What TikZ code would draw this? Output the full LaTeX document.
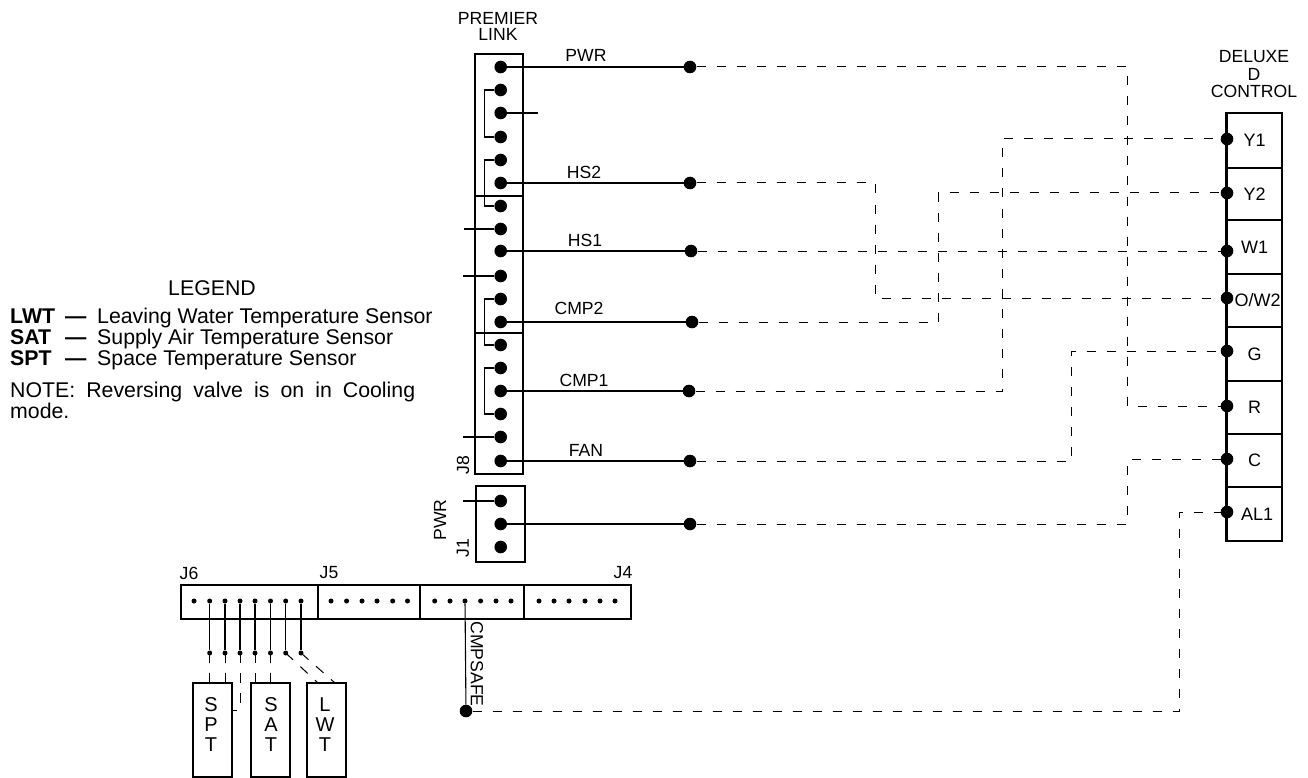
\documentclass[tikz,border=0pt]{standalone}
\usepackage{fontspec}
\setmainfont{Liberation Sans}
\tikzset{
	lbl/.style={inner sep=0pt, font=\fontsize{17.6}{16}\selectfont, align=center},
	legendtxt/.style={inner sep=0pt, anchor=west, text height=15pt, text depth=4pt, font=\fontsize{21.3}{21}\selectfont},
	bigdot/.style={circle, fill=black, inner sep=0pt, minimum size=12.6pt},
	smalldot/.style={circle, fill=black, inner sep=0pt, minimum size=5pt},
	wire/.style={line width=1.1pt},
	dashwire/.style={line width=1pt, dash pattern=on 9pt off 11pt},
	stubdash/.style={line width=1pt, dash pattern=on 10pt off 10pt},
	boxpart/.style={draw, line width=2pt, rectangle, inner sep=0pt, font=\fontsize{18}{18}\selectfont},
	sensortext/.style={inner sep=0pt, align=center, font=\fontsize{20}{20}\selectfont},
}
\begin{document}
\begin{tikzpicture}[x=1pt,y=-1pt,line join=miter,line cap=butt]
		\useasboundingbox (0,0) rectangle (1308,778);
		\def\jx{500.7} \def\bx{484.3} \def\rx{690} \def\dx{1227}
		% legend
		\node[inner sep=0pt, font=\fontsize{21.3}{21}\selectfont] (legend) at (212,288) {LEGEND};
		\foreach \nm/\txt/\y in {LWT/Leaving Water Temperature Sensor/318,SAT/Supply Air Temperature Sensor/339,SPT/Space Temperature Sensor/360} {
			\node[legendtxt, font=\fontsize{21.3}{21}\selectfont\bfseries] (key\nm) at (10,\y) {\nm};
			\node[legendtxt, font=\fontsize{21.3}{21}\selectfont\bfseries] (dash\nm) at (65,\y) {---};
			\node[legendtxt] (txt\nm) at (97,\y) {\txt};
		}
		\node[inner sep=0pt, anchor=north west, text width=405pt, align=justify, font=\fontsize{21.3}{19}\selectfont] (note) at (10,382) {NOTE: Reversing valve is on in Cooling mode.};
		% premier link
		\node[lbl] (premier) at (498,26.5) {PREMIER\\LINK};
		\node[boxpart, minimum width=48pt, minimum height=420pt] (jeight) at (499,264) {};
		\node[boxpart, minimum width=49pt, minimum height=76pt] (jone) at (500.5,524) {};
		\coordinate (divaw) at (476,196); \coordinate (divae) at (524,196);
		\coordinate (divbw) at (476,333); \coordinate (divbe) at (524,333);
		\draw[wire] (divaw)--(divae);
		\draw[wire] (divbw)--(divbe);
		\foreach \y [count=\i] in {67,90,113,137,160,183,206,229,251,276,299,322,345,368,391,414,437,461}
			\node[bigdot] (p\i) at (\jx,\y) {};
		\node[bigdot] (q1) at (\jx,501) {};
		\node[bigdot] (q2) at (\jx,524) {};
		\node[bigdot] (q3) at (\jx,547) {};
		\draw[wire] (p2)--(\bx,90)--(\bx,137)--(p4);
		\draw[wire] (p5)--(\bx,160)--(\bx,206)--(p7);
		\draw[wire] (p11)--(\bx,299)--(\bx,345)--(p13);
		\draw[wire] (p14)--(\bx,368)--(\bx,414)--(p16);
		\coordinate (stuba) at (538,113); \coordinate (stubb) at (464,229);
		\coordinate (stubc) at (463,276); \coordinate (stubd) at (463,437);
		\coordinate (stube) at (463,501);
		\draw[wire] (p3)--(stuba);
		\draw[wire] (p8)--(stubb);
		\draw[wire] (p10)--(stubc);
		\draw[wire] (p17)--(stubd);
		\draw[wire] (q1)--(stube);
		\node[lbl, rotate=90] (jeightlbl) at (463,465) {J8};
		\node[lbl, rotate=90] (jonelbl) at (463,548) {J1};
		\node[lbl, rotate=90] (pwrlbl) at (440,520) {PWR};
		% wire ends
		\node[bigdot] (rpwr) at (\rx,67) {};
		\node[bigdot] (rhs2) at (\rx,183) {};
		\node[bigdot] (rhs1) at (691,251) {};
		\node[bigdot] (rcmp2) at (692,322) {};
		\node[bigdot] (rcmp1) at (689,391) {};
		\node[bigdot] (rfan) at (\rx,461) {};
		\node[bigdot] (rj1) at (\rx,524) {};
		\draw[wire] (p1)--(rpwr);
		\draw[wire] (p6)--(rhs2);
		\draw[wire] (p9)--(rhs1);
		\draw[wire] (p12)--(rcmp2);
		\draw[wire] (p15)--(rcmp1);
		\draw[wire] (p18)--(rfan);
		\draw[wire] (q2)--(rj1);
		\node[lbl] (pwrwire) at (586,55) {PWR};
		\node[lbl] (hstwo) at (584,172) {HS2};
		\node[lbl] (hsone) at (585,240) {HS1};
		\node[lbl] (cmptwo) at (579,308) {CMP2};
		\node[lbl] (cmpone) at (584,380) {CMP1};
		\node[lbl] (fanlbl) at (586,450) {FAN};
		% deluxe control
		\node[lbl, font=\fontsize{17.6}{17.5}\selectfont] (deluxe) at (1254,74.5) {DELUXE\\D\\CONTROL};
		\foreach \nm/\top/\bot in {Y1/113/168,Y2/168/220,W1/220/274,\kern6pt O\slash W2/274/327,G/327/381,R/381/434,C/434/487,\kern5pt AL1/487/541} {
			\pgfmathsetmacro{\cy}{(\top+\bot)/2}
			\pgfmathsetmacro{\ch}{\bot-\top}
			\node[boxpart, line width=1.4pt, minimum width=55pt, minimum height=\ch pt] (cell\top) at (1254.5,\cy) {\nm};
		}
		\draw[line width=2pt] (cell113.north west)--(cell487.south west);
		\node[bigdot] (dY1) at (\dx,139) {};
		\node[bigdot] (dY2) at (\dx,193) {};
		\node[bigdot] (dW1) at (\dx,251) {};
		\node[bigdot] (dOW2) at (\dx,298) {};
		\node[bigdot] (dG) at (\dx,351) {};
		\node[bigdot] (dR) at (\dx,406) {};
		\node[bigdot] (dC) at (\dx,459) {};
		\node[bigdot] (dAL1) at (\dx,512) {};
		\draw[dashwire] (rpwr)--(1127,67)--(1127,406)--(dR);
		\draw[dashwire] (rhs2)--(875,183)--(875,298)--(dOW2);
		\draw[dashwire] (rhs1)--(dW1);
		\draw[dashwire] (rcmp2)--(938,322)--(938,193)--(dY2);
		\draw[dashwire] (rcmp1)--(1002,391)--(1002,139)--(dY1);
		\draw[dashwire] (rfan)--(1071,461)--(1071,351)--(dG);
		\draw[dashwire] (rj1)--(1127,524)--(1127,459)--(dC);
		% lower connector strip
		\node[boxpart, minimum width=137pt, minimum height=34pt] (jsix) at (249.5,602) {};
		\node[boxpart, minimum width=102pt, minimum height=34pt] (jfive) at (369,602) {};
		\node[boxpart, minimum width=104pt, minimum height=34pt] (jmid) at (472,602) {};
		\node[boxpart, minimum width=107pt, minimum height=34pt] (jfour) at (577.5,602) {};
		\node[lbl] (jsixlbl) at (189,573) {J6};
		\node[lbl] (jfivelbl) at (329,573) {J5};
		\node[lbl] (jfourlbl) at (623,573) {J4};
		\foreach \x [count=\i] in {194,209.7,225,240,255,270.5,285.7,301}
			\node[smalldot] (s\i) at (\x,601) {};
		\foreach \x [count=\i] in {331,346.6,362,377,392.7,407.5}
			\node[smalldot] (f\i) at (\x,601) {};
		\foreach \x [count=\i] in {434.7,450,465,480.6,496,511}
			\node[smalldot] (m\i) at (\x,601) {};
		\foreach \x [count=\i] in {539,554,569,585,600,615}
			\node[smalldot] (r\i) at (\x,601) {};
		\foreach \x [count=\i from 2] in {209.7,225,240,255,270.5,285.7,301} {
			\node[smalldot] (t\i) at (\x,653) {};
			\draw[wire] (s\i)--(t\i);
		}
		% sensors
		\node[boxpart, minimum width=39pt, minimum height=94pt] (spt) at (212.5,730) {};
		\node[boxpart, minimum width=39pt, minimum height=94pt] (sat) at (270.5,730) {};
		\node[boxpart, minimum width=39pt, minimum height=94pt] (lwt) at (326.5,730) {};
		\node[sensortext] (spttxt) at (211,725) {S\\P\\T};
		\node[sensortext] (sattxt) at (271,725) {S\\A\\T};
		\node[sensortext] (lwttxt) at (325,725) {L\\W\\T};
		\draw[stubdash] (t2.center)--(209.7,683);
		\draw[stubdash] (t3.center)--(225,683);
		\draw[stubdash] (t4.center)--(240,710)--(232,710);
		\draw[stubdash] (t5.center)--(255,683);
		\draw[stubdash] (t6.center)--(270.5,683);
		\draw[stubdash] (t7.center)--(318,683);
		\draw[stubdash] (t8.center)--(335,683);
		% cmpsafe
		\node[bigdot] (safe) at (466,711) {};
		\draw[wire] (m3)--(safe);
		\node[lbl, rotate=-90] (safelbl) at (477,664) {CMPSAFE};
		\draw[dashwire] (safe)--(1179,711)--(1179,512)--(dAL1);
\end{tikzpicture}
\end{document}
